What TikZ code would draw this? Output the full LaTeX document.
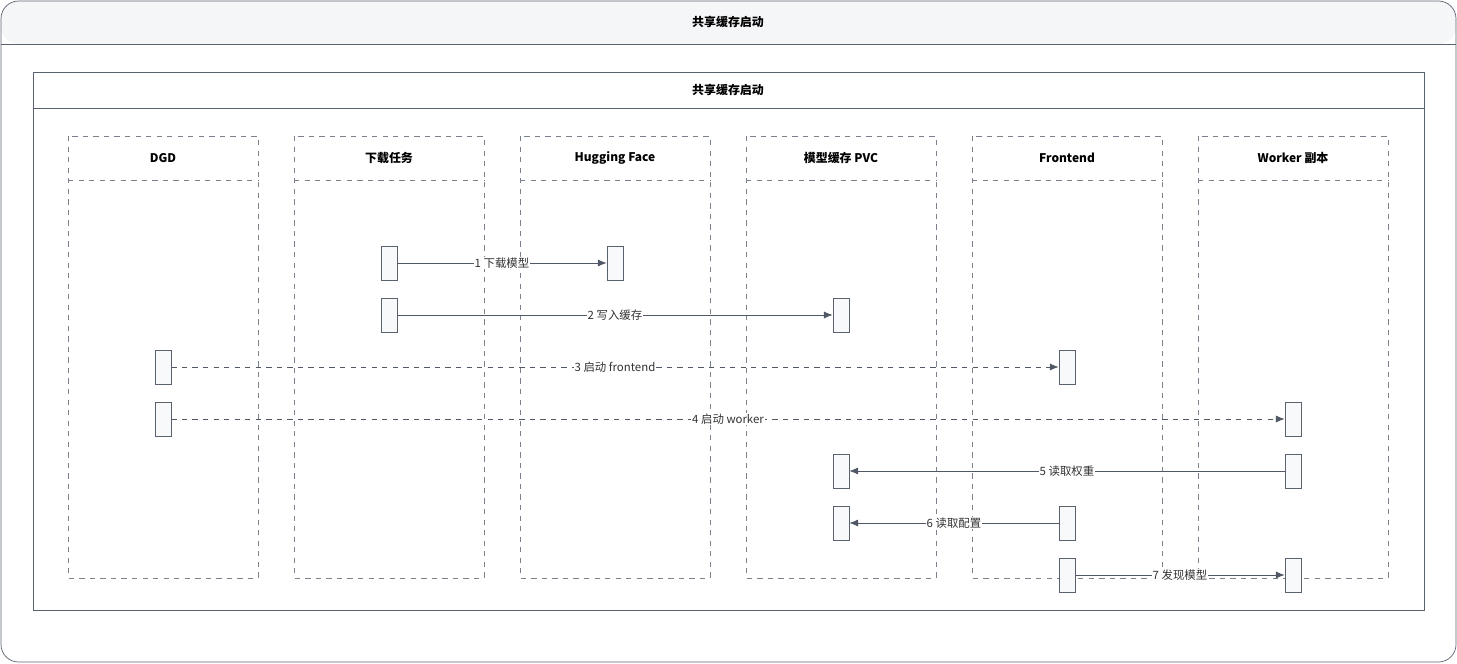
\documentclass[tikz,border=0pt]{standalone}
\usepackage{fontspec}
\setmainfont{Noto Sans CJK SC}
\usetikzlibrary{arrows.meta}
\definecolor{edgegray}{HTML}{5A6270}
\definecolor{headfill}{HTML}{F4F6F8}
\definecolor{actfill}{HTML}{F8F9FA}
\tikzset{
	lane/.style={draw=edgegray!80,dashed,thin},
	act/.style={draw=edgegray,fill=actfill,thin,minimum width=16*0.02cm,minimum height=34*0.02cm,inner sep=0pt},
	msg/.style={draw=edgegray!90!black,-{Latex[length=5pt,width=4pt]}},
	msgd/.style={msg,dashed},
	lbl/.style={fill=white,inner sep=0.5pt,font=\fontsize{6.5}{7}\selectfont,text=black!80},
	title/.style={font=\bfseries\fontsize{6.8}{8}\selectfont}
}
\begin{document}
\begin{tikzpicture}[x=0.02cm,y=-0.02cm]
	\useasboundingbox (0,0) rectangle (1457,663);
	% outer frame
	\fill[headfill,rounded corners=10] (1,1) rectangle (1456,44);
	\draw[edgegray,rounded corners=10] (1,1) rectangle (1456,662);
	\draw[edgegray] (1,44) -- (1456,44);
	\node[title] (outertitle) at (728,22) {共享缓存启动};
	% inner frame
	\draw[edgegray] (33,72) rectangle (1424,610);
	\draw[edgegray] (33,108) -- (1424,108);
	\node[title] (innertitle) at (728,90) {共享缓存启动};
	% lanes
	\foreach \cx/\name/\txt in {163/dgd/DGD,389/dl/下载任务,615/hf/Hugging Face,841/pvc/模型缓存 PVC,1067/fe/Frontend,1293/wk/Worker 副本}{
		\draw[lane] (\cx-95,136) rectangle (\cx+95,578);
		\draw[lane] (\cx-95,180) -- (\cx+95,180);
		\node[title] (\name) at (\cx,158) {\txt};
	}
	% activations
	\node[act] (a1) at (389,263) {};
	\node[act] (b1) at (615,263) {};
	\node[act] (a2) at (389,315) {};
	\node[act] (b2) at (841,315) {};
	\node[act] (a3) at (163,367) {};
	\node[act] (b3) at (1067,367) {};
	\node[act] (a4) at (163,419) {};
	\node[act] (b4) at (1293,419) {};
	\node[act] (a5) at (1293,471) {};
	\node[act] (b5) at (841,471) {};
	\node[act] (a6) at (1067,523) {};
	\node[act] (b6) at (841,523) {};
	\node[act] (a7) at (1067,575) {};
	\node[act] (b7) at (1293,575) {};
	% messages
	\draw[msg] (a1) -- (b1) node[lbl,midway] {1 下载模型};
	\draw[msg] (a2) -- (b2) node[lbl,midway] {2 写入缓存};
	\draw[msgd] (a3) -- (b3) node[lbl,midway] {3 启动 frontend};
	\draw[msgd] (a4) -- (b4) node[lbl,midway] {4 启动 worker};
	\draw[msg] (a5) -- (b5) node[lbl,midway] {5 读取权重};
	\draw[msg] (a6) -- (b6) node[lbl,midway] {6 读取配置};
	\draw[msg] (a7) -- (b7) node[lbl,midway] {7 发现模型};
\end{tikzpicture}
\end{document}
